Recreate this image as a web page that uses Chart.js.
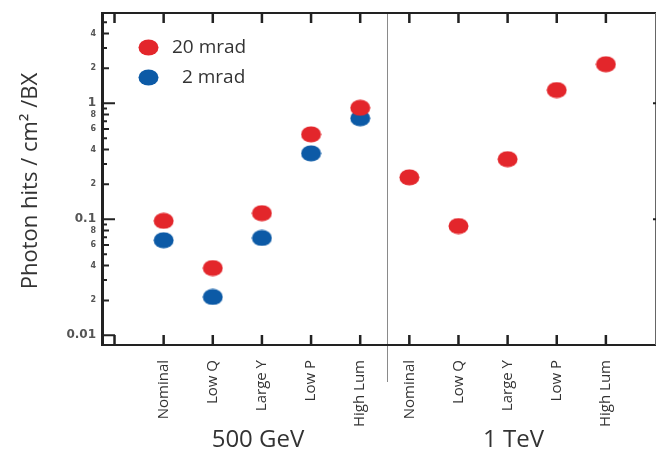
<!DOCTYPE html>
<html>
<head>
<meta charset="utf-8">
<script src="https://cdn.jsdelivr.net/npm/chart.js@4"></script>
<style>
  body { margin: 0; background: #fff; }
  canvas { display: block; }
</style>
</head>
<body>
<canvas id="grafica" width="657" height="451"></canvas>
<script>
// datos
const categorias = ['Nominal', 'Low Q', 'Large Y', 'Low P', 'High Lum'];
const energias = ['500 GeV', '1 TeV'];
const rojo500 = [0.097, 0.038, 0.113, 0.54, 0.915];
const azul500 = [0.066, 0.0214, 0.069, 0.37, 0.743];
const rojo1TeV = [0.23, 0.0875, 0.33, 1.30, 2.17];
const series = ['20 mrad', ' 2 mrad'];

const yTicks = [0.01, 0.02, 0.03, 0.04, 0.05, 0.06, 0.07, 0.08, 0.09,
                0.1, 0.2, 0.3, 0.4, 0.5, 0.6, 0.7, 0.8, 0.9,
                1, 2, 3, 4, 5];
const yLabels = { 0.01: '0.01', 0.02: '2', 0.04: '4', 0.06: '6', 0.08: '8',
                  0.1: '0.1', 0.2: '2', 0.4: '4', 0.6: '6', 0.8: '8',
                  1: '1', 2: '2', 4: '4' };
const decadas = [0.01, 0.1, 1];

const ROJO = '#e3262b';
const AZUL = '#0c5aa6';

// todas las categorias en un eje lineal: 1..5 = 500 GeV, 6..10 = 1 TeV
const etiquetas = categorias.concat(categorias);
const posX = etiquetas.map((c, i) => i + 1);

function elipse(color, w, h) {
    const c = document.createElement('canvas');
    c.width = w; c.height = h;
    const g = c.getContext('2d');
    g.fillStyle = color;
    g.beginPath();
    g.ellipse(w / 2, h / 2, w / 2 - 0.5, h / 2 - 0.5, 0, 0, Math.PI * 2);
    g.fill();
    return c;
}
const puntoRojo = elipse(ROJO, 21, 17);
const puntoAzul = elipse(AZUL, 21, 17);

const rojos = rojo500.concat(rojo1TeV).map((v, i) => ({ x: posX[i], y: v }));
const azules = azul500.map((v, i) => ({ x: posX[i], y: v }));

const marco = {
    id: 'marco',
    afterDraw(chart) {
        const { ctx, chartArea: a, scales: { x, y } } = chart;
        ctx.save();
        ctx.lineCap = 'butt';

        // divisor entre energias
        ctx.strokeStyle = '#8a8a8a';
        ctx.lineWidth = 1;
        const xd = Math.round(x.getPixelForValue(5.55)) + 0.5;
        ctx.beginPath();
        ctx.moveTo(xd, a.top);
        ctx.lineTo(xd, 382);
        ctx.stroke();

        // marco
        ctx.strokeStyle = '#222';
        ctx.lineWidth = 2;
        ctx.beginPath();
        ctx.moveTo(a.left, a.top);
        ctx.lineTo(a.right, a.top);
        ctx.moveTo(a.left, a.bottom);
        ctx.lineTo(a.right, a.bottom);
        ctx.stroke();
        ctx.lineWidth = 3;
        ctx.beginPath();
        ctx.moveTo(a.left + 1.5, a.top - 1);
        ctx.lineTo(a.left + 1.5, a.bottom + 1);
        ctx.stroke();
        ctx.lineWidth = 1;
        ctx.strokeStyle = '#666';
        ctx.beginPath();
        ctx.moveTo(a.right - 0.5, a.top);
        ctx.lineTo(a.right - 0.5, a.bottom);
        ctx.stroke();

        // ticks del eje x (hacia dentro)
        ctx.strokeStyle = '#222';
        ctx.lineWidth = 2.5;
        ctx.beginPath();
        for (let i = 0; i <= 10; i++) {
            const px = x.getPixelForValue(i);
            ctx.moveTo(px, a.bottom);
            ctx.lineTo(px, a.bottom - 10);
            ctx.moveTo(px, a.top);
            ctx.lineTo(px, a.top + 10);
        }
        ctx.stroke();

        // ticks del eje y
        ctx.lineWidth = 2;
        ctx.beginPath();
        yTicks.forEach(v => {
            const py = y.getPixelForValue(v);
            let largo = 6;
            if (decadas.includes(v)) largo = 14;
            else if (yLabels[v]) largo = 8;
            ctx.moveTo(a.left, py);
            ctx.lineTo(a.left + largo, py);
        });
        [0.1, 1].forEach(v => {
            const py = y.getPixelForValue(v);
            ctx.moveTo(a.right, py);
            ctx.lineTo(a.right - 3, py);
        });
        ctx.stroke();

        // titulo del eje y
        ctx.fillStyle = '#333';
        ctx.font = '22px "Open Sans"';
        ctx.textAlign = 'center';
        ctx.textBaseline = 'alphabetic';
        ctx.save();
        ctx.translate(37, (a.top + a.bottom) / 2 + 2);
        ctx.rotate(-Math.PI / 2);
        ctx.fillText('Photon hits / cm\u00b2 /BX', 0, 0);
        ctx.restore();

        // grupos de energia
        ctx.font = '24px "Open Sans"';
        ctx.fillStyle = '#333';
        ctx.fillText(energias[0], x.getPixelForValue(2.92), 446.5);
        ctx.fillText(energias[1], x.getPixelForValue(8.12), 446.5);

        // leyenda
        ctx.drawImage(puntoRojo, 138, 39);
        ctx.drawImage(puntoAzul, 138, 69);
        ctx.font = '19px "Open Sans"';
        ctx.textAlign = 'left';
        ctx.textBaseline = 'middle';
        ctx.fillText(series[0], 172, 48);
        ctx.fillText(series[1], 177, 78);
        ctx.restore();
    }
};

new Chart(document.getElementById('grafica'), {
    type: 'scatter',
    data: {
        datasets: [{
            label: series[0],
            data: rojos,
            pointStyle: puntoRojo,
            backgroundColor: ROJO,
            borderColor: ROJO
        }, {
            label: series[1],
            data: azules,
            pointStyle: puntoAzul,
            backgroundColor: AZUL,
            borderColor: AZUL
        }]
    },
    options: {
        responsive: false,
        animation: false,
        devicePixelRatio: 1,
        layout: { autoPadding: false, padding: { left: 0, right: 1, top: 13, bottom: 0 } },
        plugins: { legend: { display: false }, tooltip: { enabled: false } },
        scales: {
            x: {
                type: 'linear',
                min: -0.275,
                max: 11.02,
                grid: { display: false, drawTicks: false },
                border: { display: false },
                afterBuildTicks(scale) {
                    scale.ticks = posX.map(v => ({ value: v }));
                },
                afterFit(scale) {
                    scale.height = 106;
                    scale.paddingLeft = 0;
                    scale.paddingRight = 0;
                },
                ticks: {
                    autoSkip: false,
                    minRotation: 90,
                    maxRotation: 90,
                    padding: 15,
                    color: '#333',
                    font: { family: 'Open Sans', size: 15 },
                    callback: (v) => etiquetas[v - 1] || ''
                }
            },
            y: {
                type: 'logarithmic',
                min: 0.00825,
                max: 6.0,
                grid: { display: false, drawTicks: false },
                border: { display: false },
                afterBuildTicks(scale) {
                    scale.ticks = yTicks.map(v => ({ value: v }));
                },
                afterFit(scale) {
                    scale.width = 101;
                    scale.paddingTop = 0;
                    scale.paddingBottom = 0;
                },
                ticks: {
                    autoSkip: false,
                    padding: 5,
                    color: '#555',
                    font: (c) => {
                        const v = c.tick ? c.tick.value : 1;
                        if (decadas.includes(v)) return { family: 'DejaVu Sans', size: 12, weight: 'bold' };
                        return { family: 'DejaVu Sans', size: 8, weight: 'bold' };
                    },
                    callback: (v) => yLabels[v] || ''
                }
            }
        }
    },
    plugins: [marco]
});
</script>
</body>
</html>
